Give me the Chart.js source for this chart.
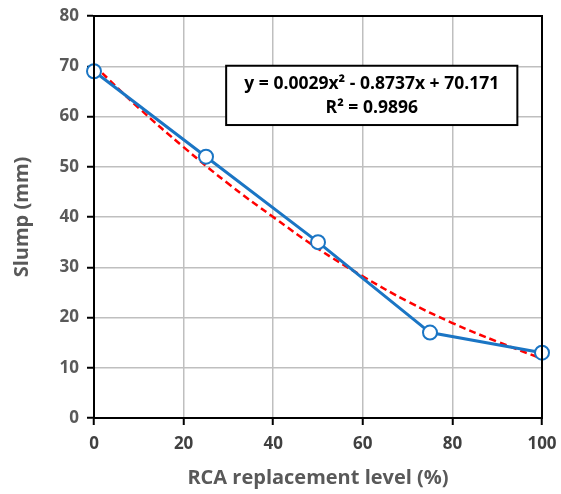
<!DOCTYPE html>
<html>
<head>
<meta charset="utf-8">
<script src="https://cdn.jsdelivr.net/npm/chart.js@4"></script>
<style>
  html, body { margin: 0; padding: 0; background: #fff; }
  #wrap { width: 561px; height: 494px; position: relative; }
</style>
</head>
<body>
<div id="wrap"><canvas id="slumpChart"></canvas></div>
<script>
// ---------- DATA ----------
const rcaLevels = [0, 25, 50, 75, 100];
const slumpValues = [69, 52, 35, 17, 13];

// trendline (poly order 2)
const trendX = [0, 10, 20, 30, 40, 50, 60, 70, 80, 90, 100];
const trendY = [70.2, 61.7, 53.9, 46.6, 40.0, 33.7, 28.2, 23.2, 18.9, 15.2, 11.8];

const xTicks = [0, 20, 40, 60, 80, 100];
const yTicks = [0, 10, 20, 30, 40, 50, 60, 70, 80];

const eqLine1 = 'y = 0.0029x² - 0.8737x + 70.171';
const eqLine2 = 'R² = 0.9896';

const FONT = "'Open Sans', 'Liberation Sans', sans-serif";

// ---------- PLUGINS ----------
const frameBox = {
  id: 'frameBox',
  afterDatasetsDraw(chart) {
    const { ctx, chartArea: a } = chart;
    ctx.save();
    ctx.strokeStyle = '#000';
    ctx.lineWidth = 2;
    ctx.strokeRect(a.left, a.top, a.right - a.left, a.bottom - a.top);
    ctx.restore();
  }
};

const equationBox = {
  id: 'equationBox',
  afterDraw(chart) {
    const { ctx } = chart;
    const x = chart.scales.x, y = chart.scales.y;
    // box anchored in data space
    const left = x.getPixelForValue(29.5);
    const right = x.getPixelForValue(94.5);
    const top = y.getPixelForValue(70.1);
    const bottom = y.getPixelForValue(58.3);
    ctx.save();
    ctx.fillStyle = '#fff';
    ctx.fillRect(left, top, right - left, bottom - top);
    ctx.strokeStyle = '#000';
    ctx.lineWidth = 2;
    ctx.strokeRect(left, top, right - left, bottom - top);
    ctx.fillStyle = '#000';
    ctx.font = "bold 17.5px " + FONT;
    ctx.textAlign = 'center';
    ctx.textBaseline = 'middle';
    const cx = (left + right) / 2;
    ctx.fillText(eqLine1, cx, top + 18);
    ctx.fillText(eqLine2, cx, top + 42);
    ctx.restore();
  }
};

// ---------- CHART ----------
new Chart(document.getElementById('slumpChart'), {
  type: 'scatter',
  data: {
    datasets: [
      {
        label: 'Trend',
        data: trendX.map((v, i) => ({ x: v, y: trendY[i] })),
        showLine: true,
        borderColor: '#ff0000',
        borderWidth: 2.5,
        borderDash: [7, 4],
        pointRadius: 0,
        tension: 0.4,
        fill: false,
        order: 2
      },
      {
        label: 'Slump',
        data: rcaLevels.map((v, i) => ({ x: v, y: slumpValues[i] })),
        showLine: true,
        borderColor: '#1a75c4',
        borderWidth: 3,
        pointRadius: 7,
        pointBorderWidth: 2,
        pointBackgroundColor: '#fff',
        pointBorderColor: '#1a75c4',
        fill: false,
        order: 1
      }
    ]
  },
  options: {
    responsive: true,
    maintainAspectRatio: false,
    animation: false,
    clip: false,
    layout: { padding: { top: 16, right: 19, left: 0, bottom: 0 } },
    plugins: {
      legend: { display: false },
      tooltip: { enabled: false }
    },
    scales: {
      x: {
        type: 'linear',
        min: 0, max: 100,
        afterBuildTicks: s => { s.ticks = xTicks.map(v => ({ value: v })); },
        afterFit: s => { s.height = 76; s.paddingLeft = 0; s.paddingRight = 0; },
        grid: { color: '#bfbfbf', lineWidth: 1.5, tickLength: 7, tickColor: '#000', tickWidth: 2 },
        border: { color: '#000', width: 2 },
        ticks: { color: '#404040', font: { family: FONT, size: 17, weight: 'bold' }, padding: 9 },
        title: {
          display: true, text: 'RCA replacement level (%)', color: '#595959',
          font: { family: FONT, size: 20, weight: 'bold' }, padding: { top: 4 }
        }
      },
      y: {
        min: 0, max: 80,
        afterBuildTicks: s => { s.ticks = yTicks.map(v => ({ value: v })); },
        afterFit: s => { s.width = 94; s.paddingTop = 0; s.paddingBottom = 0; },
        grid: { color: '#bfbfbf', lineWidth: 1.5, tickLength: 7, tickColor: '#000', tickWidth: 2 },
        border: { color: '#000', width: 2 },
        ticks: { color: '#595959', font: { family: FONT, size: 17, weight: 'bold' }, padding: 8 },
        title: {
          display: true, text: 'Slump (mm)', color: '#595959',
          font: { family: FONT, size: 20, weight: 'bold' }, padding: { top: 10, bottom: 6 }
        }
      }
    }
  },
  plugins: [frameBox, equationBox]
});
</script>
</body>
</html>
